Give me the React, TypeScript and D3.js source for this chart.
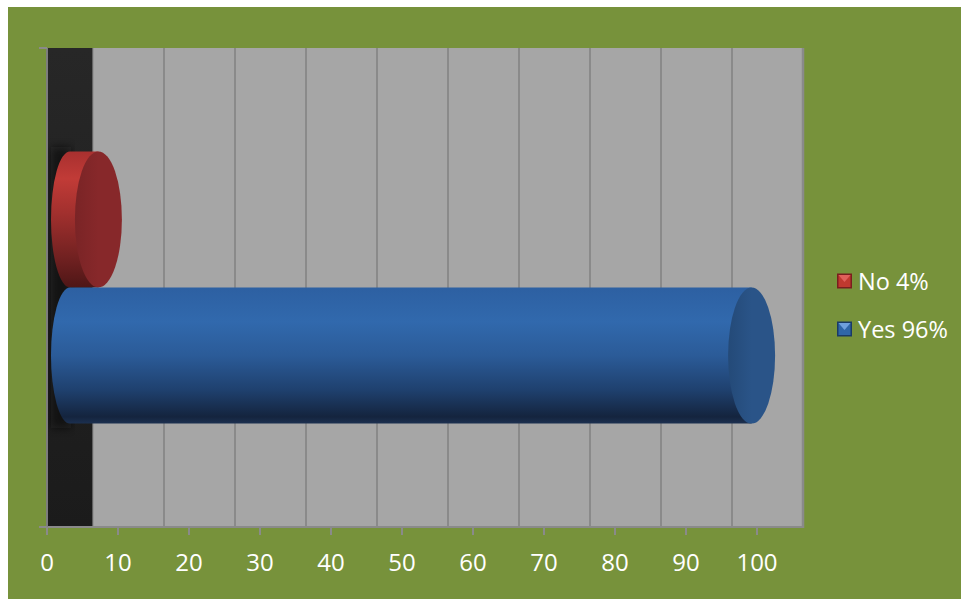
import React from "react";
import * as d3 from "d3";

// Survey answer shares, drawn as 3D cylinders
const seriesNames = ["No 4%", "Yes 96%"];
const seriesValues = [4, 96];
const axisTicks = [0, 10, 20, 30, 40, 50, 60, 70, 80, 90, 100];
const category = ["Answer"];

const W = 961;
const H = 599;

const BG = "#77923b";
const FONT = "'Open Sans', 'Liberation Sans', sans-serif";

// Plot geometry: front floor edge and a depth offset toward the back wall
const frontLeft = 47;
const frontRight = 757;
const depthX = 46;
const plotTop = 48;
const plotBottom = 527;

const seriesStyle = [
  {
    body: [
      ["0", "#a8302f"],
      ["0.2", "#c13b37"],
      ["0.45", "#a2302e"],
      ["0.8", "#6e2020"],
      ["1", "#4e1616"],
    ],
    cap: "#87282a",
    capEdge: "#7a2426",
    marker: "#c0392f",
    markerLight: "#e0605a",
    markerDark: "#7a1e1e",
  },
  {
    body: [
      ["0", "#2d60a2"],
      ["0.25", "#3169ad"],
      ["0.5", "#2b5b98"],
      ["0.75", "#1f416f"],
      ["0.95", "#14243e"],
      ["1", "#1c3050"],
    ],
    cap: "#2a5488",
    capEdge: "#244a78",
    marker: "#2f66a8",
    markerLight: "#6fa0dd",
    markerDark: "#1a3a66",
  },
];

export default function App() {
  const xFront = d3.scaleLinear().domain([0, 100]).range([frontLeft, frontRight]);
  const xBack = d3.scaleLinear().domain([0, 100]).range([frontLeft + depthX, frontRight + depthX]);
  const xMid = d3
    .scaleLinear()
    .domain([0, 100])
    .range([frontLeft + depthX / 2, frontRight + depthX / 2]);

  const yCat = d3
    .scaleBand<string>()
    .domain(category)
    .range([plotTop, plotBottom])
    .paddingInner(0)
    .paddingOuter(0.38);
  const ySeries = d3
    .scaleBand<string>()
    .domain(seriesNames)
    .range([yCat(category[0]) as number, (yCat(category[0]) as number) + yCat.bandwidth()]);

  const capRx = 23.5;
  const leftRx = 19;

  return (
    <div style={{ position: "fixed", left: 0, top: 0 }}>
      <svg width={W} height={H} style={{ display: "block" }}>
        <defs>
          {seriesStyle.map((s, i) => (
            <linearGradient key={i} id={`body${i}`} x1="0" y1="0" x2="0" y2="1">
              {s.body.map(([o, c]) => (
                <stop key={o} offset={o} stopColor={c} />
              ))}
            </linearGradient>
          ))}
          {seriesStyle.map((s, i) => (
            <linearGradient key={i} id={`cap${i}`} x1="0" y1="0" x2="1" y2="0">
              <stop offset="0" stopColor={s.capEdge} />
              <stop offset="0.5" stopColor={s.cap} />
              <stop offset="1" stopColor={s.cap} />
            </linearGradient>
          ))}
          <linearGradient id="wall" x1="0" y1="0" x2="0" y2="1">
            <stop offset="0" stopColor="#272727" />
            <stop offset="1" stopColor="#1b1b1b" />
          </linearGradient>
          <filter id="soft" x="-20%" y="-20%" width="140%" height="140%">
            <feGaussianBlur stdDeviation="4" />
          </filter>
        </defs>

        <rect x={0} y={0} width={W} height={H} fill="#ffffff" />
        <rect x={8} y={7} width={W - 8} height={H - 7} fill={BG} />

        {/* back wall */}
        <rect
          x={xBack(0)}
          y={plotTop}
          width={xBack(100) - xBack(0)}
          height={plotBottom - plotTop}
          fill="#a6a6a6"
        />
        {/* side wall */}
        <rect
          x={frontLeft}
          y={plotTop}
          width={xBack(0) - frontLeft}
          height={plotBottom - plotTop}
          fill="url(#wall)"
        />
        {/* shadow cast on the side wall */}
        <rect
          x={frontLeft + 4}
          y={(ySeries(seriesNames[0]) as number) - 4}
          width={20}
          height={ySeries.bandwidth() * 2 + 8}
          fill="#0e0e0e"
          opacity={0.7}
          filter="url(#soft)"
        />

        {/* gridlines on the back wall */}
        {axisTicks.map((t) => (
          <line
            key={t}
            x1={xBack(t)}
            x2={xBack(t)}
            y1={plotTop}
            y2={plotBottom}
            stroke={t === 0 ? "#8e8e8e" : "#8a8a8a"}
            strokeWidth={t === 0 ? 1.2 : 2}
          />
        ))}
        <line x1={xBack(100)} x2={xBack(100)} y1={plotTop} y2={plotBottom + 1} stroke="#8a8a8a" strokeWidth={2.5} />
        <line x1={frontLeft} x2={xBack(100) + 1} y1={plotBottom} y2={plotBottom} stroke="#8a8a8a" strokeWidth={2} />
        <line x1={frontLeft} x2={frontLeft} y1={plotTop} y2={plotBottom} stroke="#7d7d7d" strokeWidth={2} />
        <line x1={39} x2={frontLeft} y1={plotTop} y2={plotTop} stroke="#8a8a8a" strokeWidth={2} />
        <line x1={39} x2={frontLeft} y1={plotBottom} y2={plotBottom} stroke="#8a8a8a" strokeWidth={2} />

        {/* value axis ticks and labels */}
        {axisTicks.map((t) => (
          <g key={t}>
            <line
              x1={xFront(t)}
              x2={xFront(t)}
              y1={plotBottom}
              y2={plotBottom + 8}
              stroke="#8a8a8a"
              strokeWidth={2}
            />
            <text
              x={xFront(t)}
              y={571}
              textAnchor="middle"
              fontFamily={FONT}
              fontSize={24}
              fill="#ffffff"
            >
              {t}
            </text>
          </g>
        ))}

        {/* cylinders */}
        {seriesNames.map((name, i) => {
          const y0 = ySeries(name) as number;
          const h = ySeries.bandwidth();
          const ry = h / 2;
          const cy = y0 + ry;
          const xs = xMid(0);
          const xe = xMid(seriesValues[i]);
          const body = `M${xe},${y0} L${xs},${y0} A${leftRx},${ry} 0 0 0 ${xs},${y0 + h} L${xe},${y0 + h} Z`;
          return (
            <g key={name}>
              <path d={body} fill={`url(#body${i})`} />
              <ellipse cx={xe} cy={cy} rx={capRx} ry={ry} fill={`url(#cap${i})`} />
            </g>
          );
        })}

        {/* legend */}
        {seriesNames.map((name, i) => {
          const s = seriesStyle[i];
          const ly = 281 + i * 48;
          const mx = 837;
          const size = 15;
          const my = ly - size / 2;
          return (
            <g key={name}>
              <rect x={mx} y={my} width={size} height={size} fill={s.markerDark} />
              <rect x={mx + 1.5} y={my + 1.5} width={size - 3} height={size - 3} fill={s.marker} />
              <path
                d={`M${mx + 1.5},${my + 1.5} L${mx + size - 1.5},${my + 1.5} L${mx + size / 2},${my + size / 2 + 1} Z`}
                fill={s.markerLight}
              />
              <text
                x={858}
                y={ly + 8.5}
                fontFamily={FONT}
                fontSize={23.5}
                fill="#ffffff"
              >
                {name}
              </text>
            </g>
          );
        })}
      </svg>
    </div>
  );
}
